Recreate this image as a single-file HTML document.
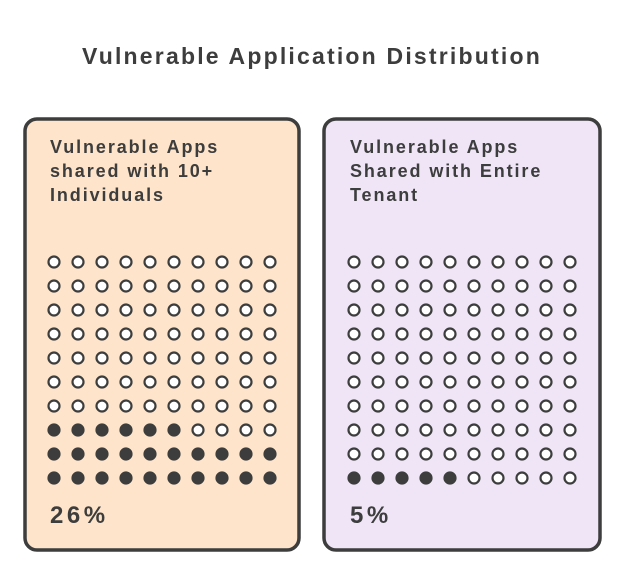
<!DOCTYPE html>
<html><head><meta charset="utf-8"><style>
html,body{margin:0;padding:0;background:#fff;width:624px;height:578px;overflow:hidden}
text{font-family:"Liberation Sans",sans-serif;font-weight:bold;fill:#3d3d3d}
</style></head><body>
<svg id="s" width="624" height="578" viewBox="0 0 624 578" xmlns="http://www.w3.org/2000/svg">
<text x="312" y="64" text-anchor="middle" font-size="23" letter-spacing="2.2">Vulnerable Application Distribution</text>
<rect x="25" y="119" width="274" height="431" rx="12" fill="#fde4ca" stroke="#3d3d3d" stroke-width="3.5"/>
<rect x="324" y="119" width="276" height="431" rx="12" fill="#efe5f6" stroke="#3d3d3d" stroke-width="3.5"/>
<text x="50" y="153" font-size="18" letter-spacing="1.9">Vulnerable Apps</text>
<text x="50" y="177" font-size="18" letter-spacing="1.9">shared with 10+</text>
<text x="50" y="201" font-size="18" letter-spacing="1.9">Individuals</text>
<text x="350" y="153" font-size="18" letter-spacing="1.9">Vulnerable Apps</text>
<text x="350" y="177" font-size="18" letter-spacing="1.9">Shared with Entire</text>
<text x="350" y="201" font-size="18" letter-spacing="1.9">Tenant</text>
<text x="50" y="523" font-size="24" letter-spacing="3.5">26%</text>
<text x="350" y="523" font-size="24" letter-spacing="3.5">5%</text>
<g id="g"></g>
</svg>
<script>
var g=document.getElementById('g'),h='';
function grid(x0){for(var r=0;r<10;r++)for(var c=0;c<10;c++){var f;
if(x0==354){f=(r==9&&c<5);} else {f=(r==7&&c<6)||r>=8;}
h+='<circle cx="'+(x0+c*24)+'" cy="'+(262+r*24)+'" r="5.5" fill="'+(f?'#3d3d3d':'#fff')+'" stroke="#3d3d3d" stroke-width="2.2"/>';}}
grid(54);grid(354);g.innerHTML=h;
</script>
</body></html>
